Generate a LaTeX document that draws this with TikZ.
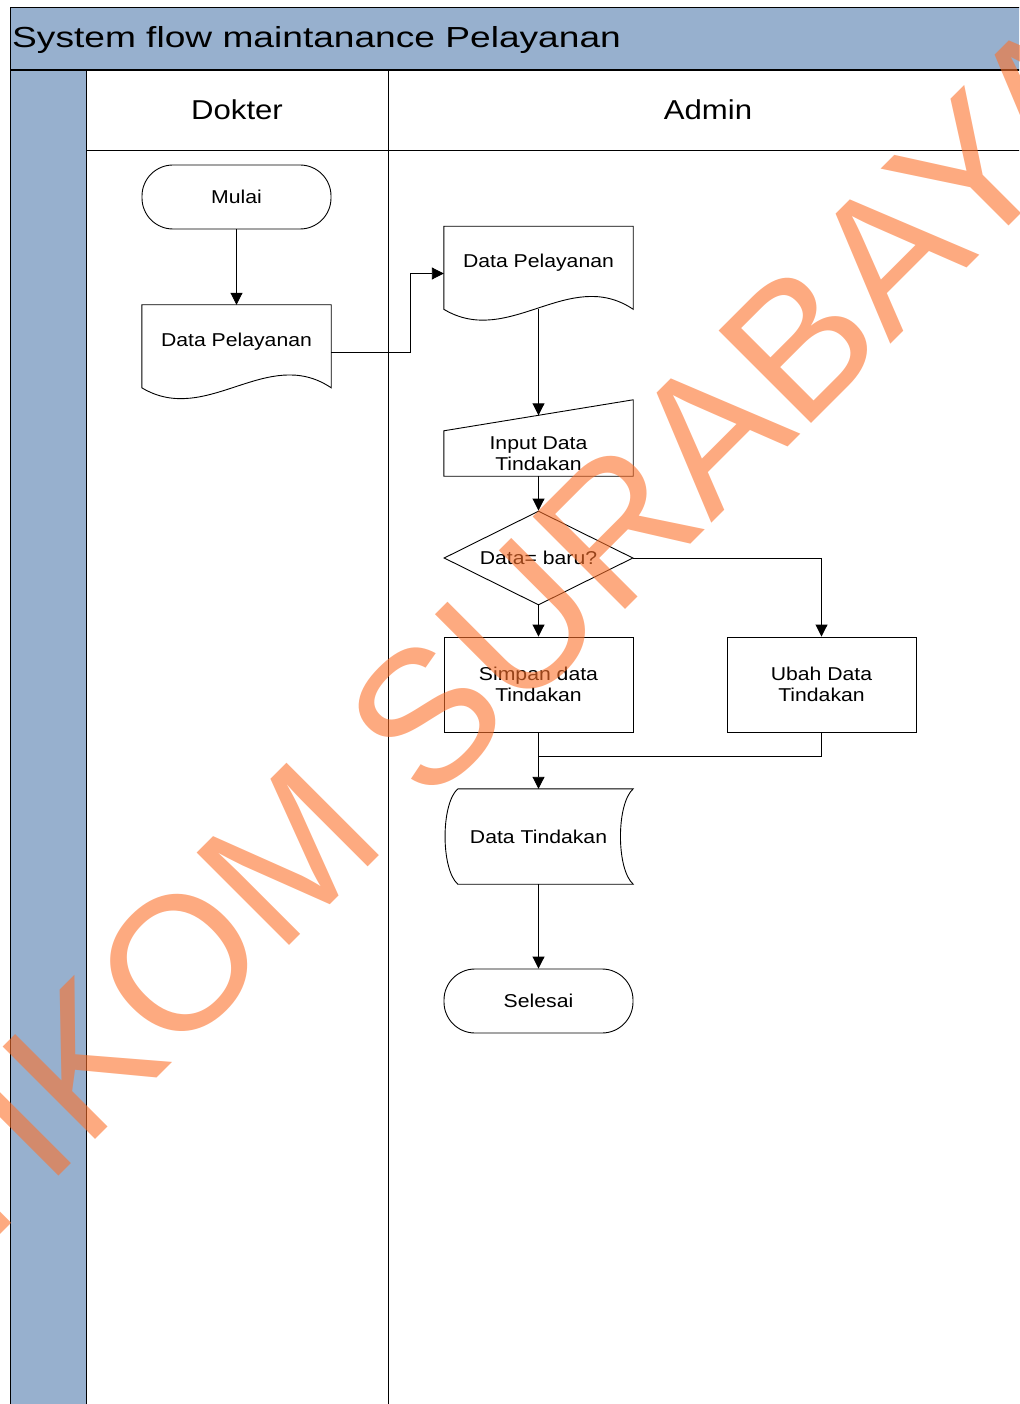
\documentclass[tikz,border=0pt]{standalone}
\usepackage{fontspec}
\setmainfont{Liberation Sans}[FakeStretch=1.14]
\newfontfamily\titlefont{Liberation Sans}[FakeStretch=1.28]
\newfontfamily\markfont{Liberation Sans}
\usetikzlibrary{calc}
\usetikzlibrary{arrows.meta}
\usetikzlibrary{shapes.geometric}
\definecolor{lanebl}{RGB}{151,176,206}
\definecolor{markor}{RGB}{252,113,43}
\newcommand{\nodesize}{\fontsize{18.6}{21.5}\selectfont}
\newcommand{\headsize}{\fontsize{27.3}{32}\selectfont}
\newcommand{\titlesize}{\titlefont\fontsize{29}{34}\selectfont}
% outline of a document shape around a node
\newcommand{\docline}[1]{%
  \draw[shapeline] (#1.north west) -- (#1.north east) -- ($(#1.north east)+(0,83)$)
    .. controls ($(#1.north east)+(-64,40)$) and ($(#1.north west)+(65,122)$) .. ($(#1.north west)+(0,83)$) -- cycle;}
% outline of a stored data shape around a node
\newcommand{\storeline}[1]{%
  \draw[shapeline] ($(#1.north west)+(14,0)$) -- (#1.north east)
    .. controls ($(#1.north east)+(-17,15)$) and ($(#1.south east)+(-17,-15)$) .. (#1.south east)
    -- ($(#1.south west)+(14,0)$)
    .. controls ($(#1.south west)+(-3,-15)$) and ($(#1.north west)+(-3,15)$) .. ($(#1.north west)+(14,0)$);}

\begin{document}
\begin{tikzpicture}[x=1pt, y=-1pt,
    shapeline/.style={draw=black, line width=0.9pt},
    flow/.style={draw=black, line width=0.9pt, -{Triangle[length=12pt,width=12pt]}},
    termbox/.style={draw, line width=0.9pt, rounded corners=31pt, minimum width=189pt, minimum height=64pt, inner sep=0pt, font=\nodesize, align=center},
    procbox/.style={draw, line width=0.9pt, minimum width=189pt, minimum height=95pt, inner sep=0pt, font=\nodesize, align=center},
    docbox/.style={minimum width=189pt, minimum height=94pt, inner sep=0pt, text height=14pt, text depth=26pt, font=\nodesize},
    inbox/.style={minimum width=189pt, minimum height=45pt, inner sep=0pt, font=\nodesize, align=center},
    storebox/.style={minimum width=189pt, minimum height=95pt, inner sep=0pt, font=\nodesize},
    decision/.style={draw, line width=0.9pt, diamond, aspect=2, minimum width=189pt, minimum height=94pt, inner sep=0pt, font=\nodesize},
    lanehead/.style={minimum width=302pt, minimum height=80pt, inner sep=0pt, font=\headsize}]
  \clip (0,0) rectangle (1019,1404);

  % swimlane frame
  \fill[lanebl] (10,7) rectangle (1028,70);
  \fill[lanebl] (10,70) rectangle (86,1410);
  \draw[line width=0.9pt] (10,7) rectangle (1028,1410);
  \draw[line width=1.8pt] (10,70) -- (1028,70);
  \draw[line width=0.9pt] (86,70) -- (86,1410);
  \draw[line width=0.9pt] (388,70) -- (388,1410);
  \draw[line width=0.9pt] (86,150) -- (1028,150);

  \node[anchor=base west, inner sep=0pt, font=\titlesize] (title) at (12,47.7) {System flow maintanance Pelayanan};
  \node[lanehead] (dokter) at (237,110) {Dokter};
  \node[lanehead] (admin) at (708,110) {Admin};

  % Dokter
  \node[termbox] (mulai) at (236.5,197) {Mulai};
  \node[docbox] (pelayanan1) at (236.5,352) {Data Pelayanan};
  \docline{pelayanan1}

  % Admin
  \node[docbox] (pelayanan2) at (538.5,273.5) {Data Pelayanan};
  \docline{pelayanan2}
  \node[inbox] (input) at (538.5,453.5) {Input Data\\Tindakan};
  \draw[shapeline] (input.south west) -- (input.north west) -- ($(input.north east)+(0,-31)$) -- (input.south east) -- cycle;
  \node[decision] (baru) at (538.5,558) {Data= baru?};
  \node[procbox] (simpan) at (538.5,684.5) {Simpan data\\Tindakan};
  \node[procbox] (ubah) at (821.5,684.5) {Ubah Data\\Tindakan};
  \node[storebox] (tindakan) at (538.5,836.5) {Data Tindakan};
  \storeline{tindakan}
  \node[termbox] (selesai) at (538.5,1001) {Selesai};

  % connectors
  \draw[flow] (mulai.south) -- (pelayanan1.north);
  \draw[flow] (pelayanan1.east) -- ++(79,0) |- (pelayanan2.west);
  \draw[flow] ([yshift=12pt]pelayanan2.south) -- ([yshift=15.5pt]input.north);
  \draw[flow] (input.south) -- (baru.north);
  \draw[flow] (baru.south) -- (simpan.north);
  \draw[flow] (baru.east) -| (ubah.north);
  \coordinate (gabung) at ($(simpan.south)+(0,24)$);
  \draw[line width=0.9pt] (ubah.south) |- (gabung);
  \draw[flow] (simpan.south) -- (tindakan.north);
  \draw[flow] (tindakan.south) -- (selesai.north);

  % watermark
  \node[anchor=base west, rotate=45, inner sep=0pt, text=markor, text opacity=0.6,
        font=\markfont\fontsize{190}{190}\selectfont] (mark) at (-125,1360) {STIKOM SURABAYA};
\end{tikzpicture}
\end{document}
